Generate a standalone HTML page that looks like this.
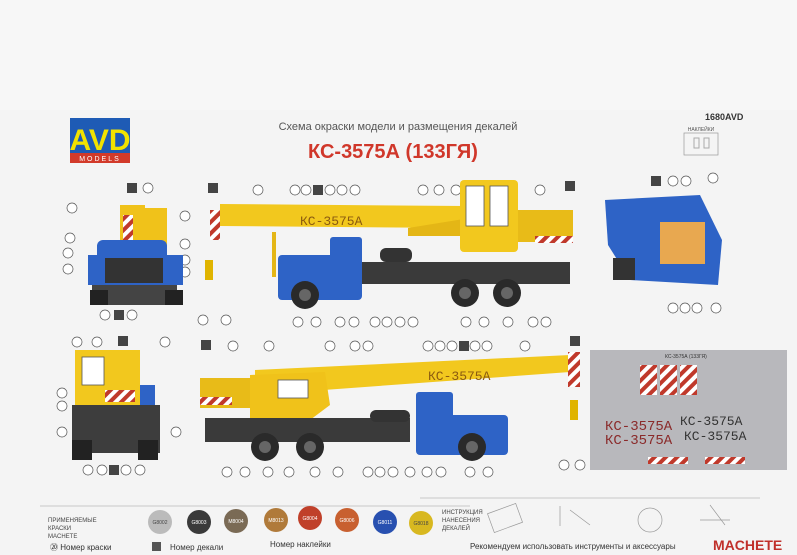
<!DOCTYPE html>
<html><head><meta charset="utf-8"><style>
html,body{margin:0;padding:0;background:#f3f3f3;}
svg{display:block;font-family:"Liberation Sans","DejaVu Sans",sans-serif;}
</style></head><body>
<svg width="797" height="555" viewBox="0 0 797 555" xmlns="http://www.w3.org/2000/svg">
<defs>
<pattern id="st" width="8" height="8" patternUnits="userSpaceOnUse" patternTransform="rotate(45)"><rect width="8" height="8" fill="#fff"/><rect width="4" height="8" fill="#c0392b"/></pattern>
<g id="c"><circle r="5" fill="#fff" stroke="#555" stroke-width="0.7"/></g>
</defs>
<rect width="797" height="555" fill="#f4f4f4"/>
<rect x="0" y="0" width="797" height="110" fill="#f7f7f7"/>
<rect x="70" y="118" width="60" height="45" fill="#1e5bb5"/>
<text x="100" y="150" font-size="30" font-weight="bold" fill="#f2e200" text-anchor="middle">AVD</text>
<rect x="70" y="153" width="60" height="10" fill="#d23a2a"/>
<text x="100" y="161" font-size="7" fill="#fff" text-anchor="middle" letter-spacing="2">MODELS</text>
<text x="398" y="130" font-size="11" fill="#555" text-anchor="middle">Схема окраски модели и размещения декалей</text>
<text x="393" y="158" font-size="20" font-weight="bold" fill="#d0372a" text-anchor="middle">КС-3575А (133ГЯ)</text>
<text x="705" y="120" font-size="9" font-weight="bold" fill="#333">1680AVD</text>
<rect x="684" y="133" width="34" height="22" fill="none" stroke="#999" stroke-width="0.7"/>
<text x="701" y="131" font-size="5" fill="#555" text-anchor="middle">НАКЛЕЙКИ</text>
<rect x="694" y="138" width="5" height="10" fill="none" stroke="#aaa"/><rect x="704" y="138" width="5" height="10" fill="none" stroke="#aaa"/>

<g>
<use href="#c" x="148" y="188"/><rect x="127" y="183" width="10" height="10" fill="#444"/>
<use href="#c" x="72" y="208"/><use href="#c" x="185" y="216"/><use href="#c" x="70" y="238"/><use href="#c" x="68" y="253"/><use href="#c" x="68" y="269"/><use href="#c" x="185" y="244"/><use href="#c" x="185" y="260"/><use href="#c" x="185" y="272"/>
<use href="#c" x="105" y="315"/><rect x="114" y="310" width="10" height="10" fill="#444"/><use href="#c" x="132" y="315"/>
<rect x="208" y="183" width="10" height="10" fill="#444"/><use href="#c" x="258" y="190"/>
<use href="#c" x="295" y="190"/><use href="#c" x="306" y="190"/><rect x="313" y="185" width="10" height="10" fill="#444"/><use href="#c" x="330" y="190"/><use href="#c" x="342" y="190"/><use href="#c" x="355" y="190"/>
<use href="#c" x="423" y="190"/><use href="#c" x="439" y="190"/><use href="#c" x="456" y="190"/><use href="#c" x="468" y="190"/><use href="#c" x="480" y="190"/><use href="#c" x="492" y="190"/><use href="#c" x="508" y="190"/><use href="#c" x="540" y="190"/><rect x="565" y="181" width="10" height="10" fill="#444"/>
<use href="#c" x="203" y="320"/><use href="#c" x="226" y="320"/>
<use href="#c" x="298" y="322"/><use href="#c" x="316" y="322"/><use href="#c" x="340" y="322"/><use href="#c" x="354" y="322"/><use href="#c" x="375" y="322"/><use href="#c" x="387" y="322"/><use href="#c" x="400" y="322"/><use href="#c" x="413" y="322"/><use href="#c" x="466" y="322"/><use href="#c" x="484" y="322"/><use href="#c" x="508" y="322"/><use href="#c" x="533" y="322"/><use href="#c" x="546" y="322"/>
<rect x="651" y="176" width="10" height="10" fill="#444"/><use href="#c" x="673" y="181"/><use href="#c" x="686" y="181"/><use href="#c" x="713" y="178"/>
<use href="#c" x="673" y="308"/><use href="#c" x="685" y="308"/><use href="#c" x="697" y="308"/><use href="#c" x="716" y="308"/>
<use href="#c" x="77" y="342"/><use href="#c" x="97" y="342"/><rect x="118" y="336" width="10" height="10" fill="#444"/><use href="#c" x="165" y="342"/>
<use href="#c" x="62" y="393"/><use href="#c" x="62" y="406"/><use href="#c" x="62" y="432"/><use href="#c" x="176" y="432"/>
<use href="#c" x="88" y="470"/><use href="#c" x="102" y="470"/><rect x="109" y="465" width="10" height="10" fill="#444"/><use href="#c" x="126" y="470"/><use href="#c" x="140" y="470"/>
<rect x="201" y="340" width="10" height="10" fill="#444"/><use href="#c" x="233" y="346"/><use href="#c" x="269" y="346"/><use href="#c" x="330" y="346"/><use href="#c" x="355" y="346"/><use href="#c" x="368" y="346"/><use href="#c" x="428" y="346"/><use href="#c" x="440" y="346"/><use href="#c" x="452" y="346"/><rect x="459" y="341" width="10" height="10" fill="#444"/><use href="#c" x="475" y="346"/><use href="#c" x="487" y="346"/><use href="#c" x="525" y="346"/><rect x="570" y="336" width="10" height="10" fill="#444"/>
<use href="#c" x="227" y="472"/><use href="#c" x="245" y="472"/><use href="#c" x="268" y="472"/><use href="#c" x="289" y="472"/><use href="#c" x="315" y="472"/><use href="#c" x="338" y="472"/><use href="#c" x="368" y="472"/><use href="#c" x="380" y="472"/><use href="#c" x="393" y="472"/><use href="#c" x="410" y="472"/><use href="#c" x="427" y="472"/><use href="#c" x="441" y="472"/><use href="#c" x="470" y="472"/><use href="#c" x="488" y="472"/>
<use href="#c" x="564" y="465"/><use href="#c" x="580" y="465"/>
</g>

<rect x="120" y="205" width="25" height="45" fill="#f0c21a"/>
<rect x="145" y="208" width="22" height="42" fill="#f0c21a"/>
<rect x="123" y="215" width="10" height="30" fill="url(#st)"/>
<rect x="97" y="240" width="70" height="25" rx="6" fill="#2e63c6"/>
<rect x="88" y="255" width="95" height="30" fill="#2e63c6"/>
<rect x="105" y="258" width="58" height="25" fill="#333"/>
<rect x="92" y="285" width="85" height="20" fill="#444"/>
<rect x="90" y="290" width="18" height="15" fill="#222"/><rect x="165" y="290" width="18" height="15" fill="#222"/>

<rect x="210" y="210" width="10" height="30" fill="url(#st)"/>
<rect x="205" y="260" width="8" height="20" fill="#e0b400"/>
<polygon points="220,204 465,206 465,228 220,226" fill="#f2c81e"/>
<text x="300" y="225" font-size="13" fill="#8a5a10" font-family="Liberation Mono,monospace">КС-3575А</text>
<polygon points="408,228 470,218 470,236 408,236" fill="#e4b616"/>
<rect x="272" y="232" width="4" height="45" fill="#e4b616"/>
<rect x="460" y="180" width="58" height="72" rx="4" fill="#f2c81e"/>
<rect x="466" y="186" width="18" height="40" fill="#fff" stroke="#555" stroke-width="0.8"/>
<rect x="490" y="186" width="18" height="40" fill="#fff" stroke="#555" stroke-width="0.8"/>
<rect x="518" y="210" width="55" height="32" fill="#e8bb18"/>
<rect x="535" y="236" width="38" height="7" fill="url(#st)"/>
<rect x="330" y="237" width="32" height="30" rx="3" fill="#2e63c6"/>
<rect x="278" y="255" width="84" height="45" rx="4" fill="#2e63c6"/>
<rect x="362" y="262" width="208" height="22" fill="#3a3a3a"/>
<rect x="380" y="248" width="32" height="14" rx="6" fill="#333"/>
<circle cx="305" cy="295" r="14" fill="#2a2a2a"/><circle cx="305" cy="295" r="6" fill="#666"/>
<circle cx="465" cy="293" r="14" fill="#2a2a2a"/><circle cx="465" cy="293" r="6" fill="#666"/>
<circle cx="507" cy="293" r="14" fill="#2a2a2a"/><circle cx="507" cy="293" r="6" fill="#666"/>

<polygon points="605,200 700,195 722,240 718,285 630,280 608,245" fill="#2e63c6"/>
<rect x="660" y="222" width="45" height="42" fill="#e8a850"/>
<rect x="613" y="258" width="22" height="22" fill="#333"/>

<rect x="75" y="350" width="65" height="55" fill="#f2c81e"/>
<rect x="82" y="357" width="22" height="28" fill="#fff" stroke="#555" stroke-width="0.8"/>
<rect x="105" y="390" width="30" height="12" fill="url(#st)"/>
<rect x="140" y="385" width="15" height="25" fill="#2e63c6"/>
<rect x="72" y="405" width="88" height="48" fill="#3d3d3d"/>
<rect x="72" y="440" width="20" height="20" fill="#222"/><rect x="138" y="440" width="20" height="20" fill="#222"/>

<polygon points="255,370 570,355 570,372 255,395" fill="#f2c81e"/>
<text x="428" y="380" font-size="13" fill="#8a5a10" font-family="Liberation Mono,monospace">КС-3575А</text>
<rect x="200" y="378" width="55" height="30" fill="#e8bb18"/>
<rect x="200" y="397" width="32" height="8" fill="url(#st)"/>
<polygon points="250,375 325,372 330,405 310,420 250,420" fill="#f0c21a"/>
<rect x="278" y="380" width="30" height="18" fill="#fff" stroke="#555" stroke-width="0.8"/>
<rect x="568" y="352" width="12" height="35" fill="url(#st)"/>
<rect x="570" y="400" width="8" height="20" fill="#e0b400"/>
<rect x="205" y="418" width="205" height="24" fill="#3a3a3a"/>
<rect x="370" y="410" width="40" height="12" rx="6" fill="#333"/>
<rect x="416" y="392" width="37" height="38" rx="3" fill="#2e63c6"/>
<rect x="416" y="415" width="92" height="40" rx="4" fill="#2e63c6"/>
<circle cx="265" cy="447" r="14" fill="#2a2a2a"/><circle cx="265" cy="447" r="6" fill="#666"/>
<circle cx="310" cy="447" r="14" fill="#2a2a2a"/><circle cx="310" cy="447" r="6" fill="#666"/>
<circle cx="472" cy="447" r="14" fill="#2a2a2a"/><circle cx="472" cy="447" r="6" fill="#666"/>

<rect x="590" y="350" width="197" height="120" fill="#b8b8bc"/>
<text x="665" y="358" font-size="5" fill="#333">КС-3575А (133ГЯ)</text>
<rect x="640" y="365" width="17" height="30" fill="url(#st)"/>
<rect x="660" y="365" width="17" height="30" fill="url(#st)"/>
<rect x="680" y="365" width="17" height="30" fill="url(#st)"/>
<text x="605" y="430" font-size="14" fill="#8a2a2a" font-family="Liberation Mono,monospace">КС-3575А</text>
<text x="605" y="444" font-size="14" fill="#8a2a2a" font-family="Liberation Mono,monospace">КС-3575А</text>
<text x="680" y="425" font-size="13" fill="#333" font-family="Liberation Mono,monospace">КС-3575А</text>
<text x="684" y="440" font-size="13" fill="#333" font-family="Liberation Mono,monospace">КС-3575А</text>
<rect x="648" y="457" width="40" height="7" fill="url(#st)"/><rect x="705" y="457" width="40" height="7" fill="url(#st)"/>

<line x1="40" y1="506" x2="470" y2="506" stroke="#bbb" stroke-width="0.7"/>
<line x1="420" y1="498" x2="760" y2="498" stroke="#bbb" stroke-width="0.7"/>
<text x="48" y="522" font-size="6" fill="#444">ПРИМЕНЯЕМЫЕ</text>
<text x="48" y="530" font-size="6" fill="#444">КРАСКИ</text>
<text x="48" y="538" font-size="6" fill="#444">MACHETE</text>
<circle cx="160" cy="522" r="12" fill="#bbb"/>
<circle cx="199" cy="522" r="12" fill="#3a3a3a"/>
<circle cx="236" cy="521" r="12" fill="#7a6a55"/>
<circle cx="276" cy="520" r="12" fill="#b07a3a"/>
<circle cx="310" cy="518" r="12" fill="#c0402a"/>
<circle cx="347" cy="520" r="12" fill="#c86030"/>
<circle cx="385" cy="522" r="12" fill="#2850b0"/>
<circle cx="421" cy="523" r="12" fill="#d8b820"/>
<g font-size="5" fill="#fff" text-anchor="middle"><text x="160" y="524" fill="#444">G8002</text><text x="199" y="524">G8003</text><text x="236" y="523">M8004</text><text x="276" y="522">M8013</text><text x="310" y="520">G8004</text><text x="347" y="522">G8006</text><text x="385" y="524">G8011</text><text x="421" y="525" fill="#444">G8018</text></g>
<text x="442" y="514" font-size="6" fill="#444">ИНСТРУКЦИЯ</text>
<text x="442" y="522" font-size="6" fill="#444">НАНЕСЕНИЯ</text>
<text x="442" y="530" font-size="6" fill="#444">ДЕКАЛЕЙ</text>
<g fill="none" stroke="#999" stroke-width="0.7">
<rect x="490" y="508" width="30" height="20" transform="rotate(-20 505 518)"/>
<path d="M560 506 v20 M570 510 l20 15"/>
<circle cx="650" cy="520" r="12"/><path d="M710 505 l15 20 M700 520 h30"/>
</g>
<text x="50" y="550" font-size="8" fill="#333">⑳  Номер краски</text>
<rect x="152" y="542" width="9" height="9" fill="#555"/>
<text x="170" y="550" font-size="8" fill="#333">Номер декали</text>
<text x="270" y="547" font-size="8" fill="#333">Номер наклейки</text>
<text x="470" y="549" font-size="8" fill="#333">Рекомендуем использовать инструменты и аксессуары</text>
<text x="713" y="550" font-size="14" font-weight="bold" fill="#c0302a">MACHETE</text>
</svg>
</body></html>
